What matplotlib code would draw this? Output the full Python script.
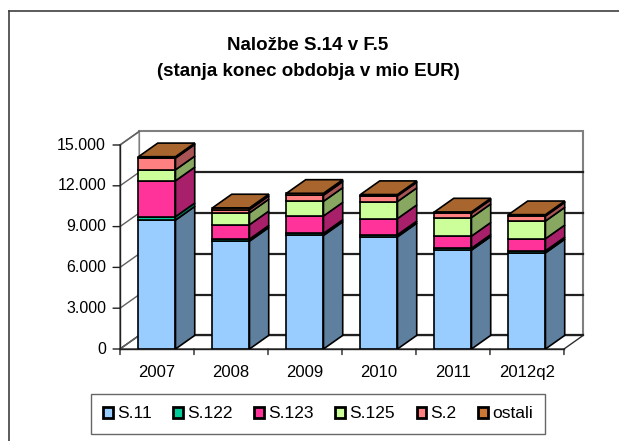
import matplotlib
matplotlib.use("Agg")
import matplotlib.pyplot as plt
from matplotlib.patches import Polygon, Patch, Rectangle
from matplotlib.lines import Line2D
import numpy as np

plt.rcParams['font.family'] = ['Liberation Sans', 'DejaVu Sans']

categories = ["2007", "2008", "2009", "2010", "2011", "2012q2"]
series_names = ["S.11", "S.122", "S.123", "S.125", "S.2", "ostali"]
s11 = [9480, 7930, 8350, 8250, 7270, 7070]
s122 = [250, 150, 150, 150, 140, 150]
s123 = [2640, 1060, 1280, 1190, 890, 890]
s125 = [810, 870, 1080, 1250, 1360, 1300]
s2 = [860, 240, 450, 420, 320, 370]
ostali = [100, 130, 140, 100, 100, 100]
yticks = [0, 3000, 6000, 9000, 12000, 15000]
ytick_labels = ["0", "3.000", "6.000", "9.000", "12.000", "15.000"]
title_lines = ["Naložbe S.14 v F.5", "(stanja konec obdobja v mio EUR)"]

front_colors = ["#99CCFF", "#00CC99", "#FF3399", "#CCFF99", "#FF8080", "#CC7733"]
side_colors = ["#5F7F9F", "#007F5F", "#A8206A", "#88A862", "#A85454", "#885020"]
top_color = "#A8662E"

series = [s11, s122, s123, s125, s2, ostali]

W, H = 619, 441
fig = plt.figure(figsize=(W / 100, H / 100), dpi=100)

# frame lines (top & left visible)
fig.add_artist(Line2D([9 / W, 9 / W], [0, 1 - 11 / H], color="#404040", lw=1.2))
fig.add_artist(Line2D([9 / W, 1], [1 - 11 / H, 1 - 11 / H], color="#404040", lw=1.2))

# plot axes
px_left, px_right, px_bottom, px_top = 120, 583.2, 349, 131.4
ax = fig.add_axes([px_left / W, 1 - px_bottom / H, (px_right - px_left) / W, (px_bottom - px_top) / H])
ax.set_axis_off()
n = len(categories)
dx = 0.26
dy = 1000
ymax = 15000
ax.set_xlim(-0.5, n - 0.5 + dx)
ax.set_ylim(0, ymax + dy)

x0, x1 = -0.5, n - 0.5
wall_c = "#808080"
# back wall
ax.add_patch(Rectangle((x0 + dx, dy), x1 - x0, ymax, facecolor="white", edgecolor=wall_c, lw=1.5, zorder=1, clip_on=False))
# left wall
ax.add_patch(Polygon([(x0, 0), (x0 + dx, dy), (x0 + dx, ymax + dy), (x0, ymax)], closed=True,
                     facecolor="white", edgecolor=wall_c, lw=1.2, zorder=1, clip_on=False))
# floor
ax.add_patch(Polygon([(x0, 0), (x1, 0), (x1 + dx, dy), (x0 + dx, dy)], closed=True,
                     facecolor="white", edgecolor="#303030", lw=1.0, zorder=1, clip_on=False))
# gridlines
for v in yticks:
    if v == ymax:
        continue
    ax.plot([x0 + dx, x1 + dx], [v + dy, v + dy], color="#202020", lw=1.6, zorder=2, clip_on=False)
for v in yticks:
    ax.plot([x0, x0 + dx], [v, v + dy], color="#606060", lw=1.0, zorder=2, clip_on=False)
# front axis lines
ax.plot([x0, x0], [0, ymax], color="#202020", lw=1.0, zorder=3, clip_on=False)
ax.plot([x0, x1], [0, 0], color="#202020", lw=1.0, zorder=3, clip_on=False)

# ticks & labels
for v, lab in zip(yticks, ytick_labels):
    ax.annotate("", xy=(x0, v), xytext=(-5, 0), textcoords="offset points",
                arrowprops=dict(arrowstyle="-", color="#202020", lw=1.0, shrinkA=0, shrinkB=0))
    ax.annotate(lab, xy=(x0, v), xytext=(-10, 0), textcoords="offset points",
                ha="right", va="center", fontsize=11.5, color="black")
for i in range(n + 1):
    xb = i - 0.5
    ax.annotate("", xy=(xb, 0), xytext=(0, -4), textcoords="offset points",
                arrowprops=dict(arrowstyle="-", color="#202020", lw=1.0, shrinkA=0, shrinkB=0))
for i, c in enumerate(categories):
    ax.annotate(c, xy=(i, 0), xytext=(0, -17), textcoords="offset points",
                ha="center", va="center", fontsize=12, color="black")

# bars
w = 0.5
xs = np.arange(n)
bottoms = np.zeros(n)
for k, vals in enumerate(series):
    vals = np.array(vals, dtype=float)
    ax.bar(xs, vals, width=w, bottom=bottoms, color=front_colors[k], edgecolor="black",
           linewidth=1.2, zorder=5)
    for i in range(n):
        b = bottoms[i]
        t = b + vals[i]
        xr = xs[i] + w / 2
        ax.add_patch(Polygon([(xr, b), (xr + dx, b + dy), (xr + dx, t + dy), (xr, t)], closed=True,
                             facecolor=side_colors[k], edgecolor="black", lw=1.2, zorder=5))
    bottoms = bottoms + vals
for i in range(n):
    T = bottoms[i]
    xl = xs[i] - w / 2
    xr = xs[i] + w / 2
    ax.add_patch(Polygon([(xl, T), (xr, T), (xr + dx, T + dy), (xl + dx, T + dy)], closed=True,
                         facecolor=top_color, edgecolor="black", lw=1.2, zorder=6, clip_on=False))

# title
fig.text(308 / W, 1 - 46 / H, title_lines[0], ha="center", va="center", fontsize=13.5, fontweight="bold")
fig.text(308 / W, 1 - 71 / H, title_lines[1], ha="center", va="center", fontsize=13.5, fontweight="bold")

# legend
handles = [Patch(facecolor=front_colors[k], edgecolor="black", linewidth=2.0) for k in range(len(series_names))]
leg = fig.legend(handles, series_names, ncol=6, loc="center", bbox_to_anchor=(318 / W, 1 - 414 / H),
                 frameon=True, fancybox=False, edgecolor="#404040", fontsize=12.5,
                 handlelength=0.55, handleheight=0.55, handletextpad=0.25, columnspacing=1.25,
                 borderpad=0.7)
leg.get_frame().set_linewidth(1.0)

fig.savefig("out.png", dpi=100)
